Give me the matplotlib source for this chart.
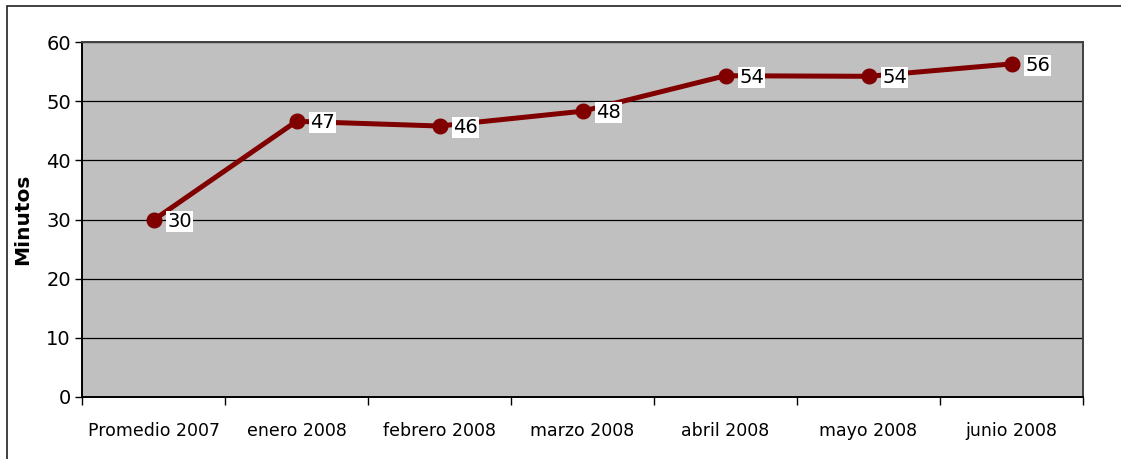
import matplotlib
matplotlib.use("Agg")
import matplotlib.pyplot as plt
from matplotlib.patches import Rectangle

categories = ["Promedio 2007", "enero 2008", "febrero 2008", "marzo 2008",
              "abril 2008", "mayo 2008", "junio 2008"]
minutes = [29.9, 46.6, 45.8, 48.3, 54.3, 54.2, 56.3]
labels = ["30", "47", "46", "48", "54", "54", "56"]
y_ticks = [0, 10, 20, 30, 40, 50, 60]

font = "DejaVu Sans"

fig = plt.figure(figsize=(11.21, 4.59), dpi=100)
fig.patch.set_facecolor("white")

# outer frame of the chart
fig.add_artist(Rectangle((7 / 1121, -0.1), 1.2, 1 - 6 / 459 + 0.1,
                         transform=fig.transFigure, fill=False,
                         edgecolor="#202020", linewidth=1.2))

ax = fig.add_axes([82 / 1121, 62 / 459, 1001 / 1121, 355 / 459])
ax.set_facecolor("#c0c0c0")

x = list(range(len(categories)))
ax.plot(x, minutes, color="#800000", linewidth=3.6, marker="o",
        markersize=10.5, markeredgecolor="#800000", zorder=3)

for xi, yi, lab in zip(x, minutes, labels):
    ax.annotate(lab, (xi, yi), xytext=(10, -1), textcoords="offset points",
                ha="left", va="center", fontsize=14, family=font,
                color="black", zorder=4,
                bbox=dict(boxstyle="square,pad=0.05", fc="white", ec="none"))

ax.set_xlim(-0.5, len(categories) - 0.5)
ax.set_ylim(0, 60)
ax.set_yticks(y_ticks)
ax.set_yticklabels([str(t) for t in y_ticks], family=font, fontsize=14)
ax.yaxis.grid(True, color="black", linewidth=0.9)
ax.set_axisbelow(True)

ax.set_xticks(x)
ax.set_xticklabels(categories, family=font, fontsize=12.5)
ax.set_xticks([i + 0.5 for i in range(-1, len(categories))], minor=True)
ax.tick_params(axis="x", which="major", length=0, pad=18)
ax.tick_params(axis="x", which="minor", length=6, width=1, color="black",
               direction="out")
ax.tick_params(axis="y", length=5, width=1, direction="out", pad=3)

for side in ["left", "bottom"]:
    ax.spines[side].set_color("black")
    ax.spines[side].set_linewidth(1.4)
for side in ["top", "right"]:
    ax.spines[side].set_color("#404040")
    ax.spines[side].set_linewidth(1.4)

ax.set_ylabel("Minutos", fontsize=14.5, fontweight="bold", labelpad=10)

fig.savefig("out.png", dpi=100, facecolor="white")
